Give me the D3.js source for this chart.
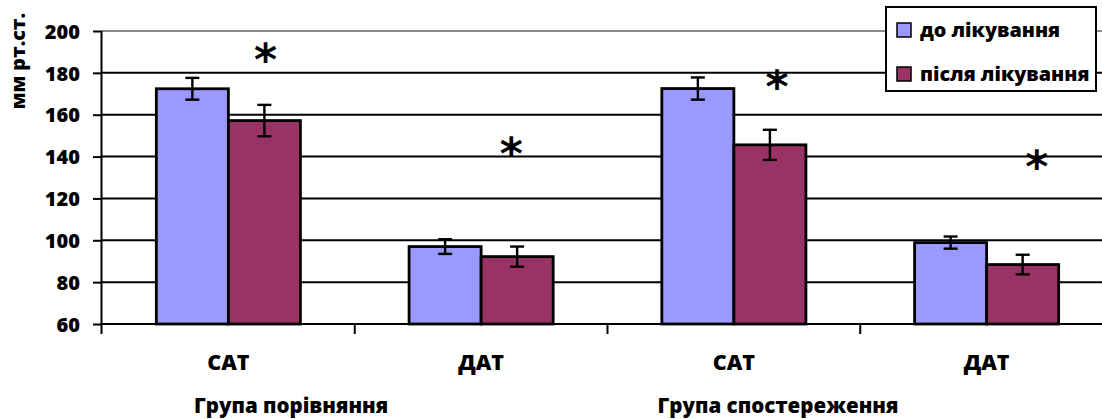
<!DOCTYPE html>
<html>
<head>
<meta charset="utf-8">
<script src="https://cdn.jsdelivr.net/npm/d3@7"></script>
<style>
  html, body { margin: 0; padding: 0; background: #fff; }
  svg { display: block; }
  text { font-family: "Open Sans", "Noto Sans", sans-serif; font-weight: 800; fill: #000; }
</style>
</head>
<body>
<svg id="chart" width="1102" height="419"></svg>
<script>
// Blood pressure before / after treatment, two groups
const categories = ["САТ", "ДАТ", "САТ", "ДАТ"];
const groupTitles = ["Група порівняння", "Група спостереження"];
const seriesNames = ["до лікування", "після лікування"];
const beforeValues = [172.4, 97.0, 172.5, 98.9];
const beforeErrors = [5.2, 3.5, 5.3, 2.9];
const afterValues = [157.2, 92.2, 145.6, 88.4];
const afterErrors = [7.5, 4.8, 7.2, 4.7];
const yTicks = [60, 80, 100, 120, 140, 160, 180, 200];
const starValues = [189.5, 144.5, 176.5, 138.5];
const seriesColors = ["#9999FF", "#993366"];

const svg = d3.select("#chart");
const margin = { left: 102, top: 31, right: 1113, bottom: 324 };

const y = d3.scaleLinear().domain([60, 200]).range([margin.bottom, margin.top]);
const x = d3.scaleBand()
  .domain(d3.range(categories.length))
  .range([margin.left, margin.right])
  .paddingInner(0.43)
  .paddingOuter(0.215);
const xs = d3.scaleBand().domain([0, 1]).range([0, x.bandwidth()]);

// horizontal gridlines
svg.append("g").selectAll("line")
  .data(yTicks.filter(v => v > 60))
  .join("line")
  .attr("x1", margin.left).attr("x2", margin.right)
  .attr("y1", d => y(d)).attr("y2", d => y(d))
  .attr("stroke", d => d === 200 ? "#8a8a8a" : "#000")
  .attr("stroke-width", 2);

// y axis
const yAxis = svg.append("g")
  .attr("transform", `translate(${margin.left},0)`)
  .call(d3.axisLeft(y).tickValues(yTicks).tickSize(9).tickPadding(13));
yAxis.select(".domain").attr("stroke-width", 2).attr("d", `M-0.5,${margin.top}V${margin.bottom + 10}`);
yAxis.selectAll(".tick line").attr("stroke-width", 2);
yAxis.selectAll(".tick text")
  .style("font-size", "20px").style("font-family", "'Open Sans', sans-serif").style("font-weight", "800")
  .attr("dy", "0.36em");

// x axis baseline with category separators
const xAxis = svg.append("g")
  .attr("transform", `translate(0,${margin.bottom})`);
xAxis.append("line")
  .attr("x1", margin.left).attr("x2", margin.right)
  .attr("stroke", "#000").attr("stroke-width", 2);
xAxis.selectAll("line.sep")
  .data(d3.range(1, categories.length))
  .join("line").attr("class", "sep")
  .attr("x1", d => margin.left + d * x.step()).attr("x2", d => margin.left + d * x.step())
  .attr("y1", 0).attr("y2", 10)
  .attr("stroke", "#000").attr("stroke-width", 2);

// category labels
svg.append("g").selectAll("text")
  .data(categories)
  .join("text")
  .attr("x", (d, i) => x(i) + x.bandwidth() / 2)
  .attr("y", 370)
  .attr("text-anchor", "middle")
  .style("font-size", "21.5px")
  .text(d => d);

// group titles
svg.append("text").attr("x", 291).attr("y", 413).attr("text-anchor", "middle")
  .style("font-size", "20.5px").text(groupTitles[0]);
svg.append("text").attr("x", 778).attr("y", 413).attr("text-anchor", "middle")
  .style("font-size", "20.5px").text(groupTitles[1]);

// y axis title
svg.append("text")
  .attr("transform", "translate(25,61) rotate(-90)")
  .attr("text-anchor", "middle")
  .style("font-size", "19.5px")
  .text("мм рт.ст.");

// bars
const series = [
  { values: beforeValues, errors: beforeErrors },
  { values: afterValues, errors: afterErrors }
];
series.forEach((s, si) => {
  const g = svg.append("g");
  g.selectAll("rect")
    .data(s.values)
    .join("rect")
    .attr("x", (d, i) => x(i) + xs(si))
    .attr("y", d => y(d))
    .attr("width", xs.bandwidth())
    .attr("height", d => y(60) - y(d))
    .attr("fill", seriesColors[si])
    .attr("stroke", "#000")
    .attr("stroke-width", 2.8);
});

// error bars
series.forEach((s, si) => {
  const g = svg.append("g").attr("stroke", "#000").attr("stroke-width", 2.4);
  s.values.forEach((v, i) => {
    const cx = x(i) + xs(si) + xs.bandwidth() / 2;
    const lo = y(v - s.errors[i]), hi = y(v + s.errors[i]);
    g.append("line").attr("x1", cx).attr("x2", cx).attr("y1", lo).attr("y2", hi);
    g.append("line").attr("x1", cx - 7).attr("x2", cx + 7).attr("y1", lo).attr("y2", lo);
    g.append("line").attr("x1", cx - 7).attr("x2", cx + 7).attr("y1", hi).attr("y2", hi);
  });
});

// significance marks above the after-treatment bars
const starShift = [1, -6, 7, 14];
svg.append("g").selectAll("text")
  .data(starValues)
  .join("text")
  .attr("x", (d, i) => x(i) + xs(1) + xs.bandwidth() / 2 + starShift[i])
  .attr("y", d => y(d))
  .attr("dy", "0.5em")
  .attr("text-anchor", "middle")
  .style("font-family", "'DejaVu Sans', sans-serif")
  .style("font-weight", "bold")
  .style("font-size", "44px")
  .text("*");

// legend
const legend = svg.append("g");
legend.append("rect")
  .attr("x", 886).attr("y", 7).attr("width", 210).attr("height", 84)
  .attr("fill", "#fff").attr("stroke", "#000").attr("stroke-width", 2);
seriesNames.forEach((name, i) => {
  const ly = 30 + i * 44;
  legend.append("rect")
    .attr("x", 897).attr("y", ly - 7).attr("width", 14).attr("height", 14)
    .attr("fill", seriesColors[i]).attr("stroke", "#000").attr("stroke-width", 1.5);
  legend.append("text")
    .attr("x", 920).attr("y", ly + 7)
    .style("font-size", "19.8px")
    .text(name);
});
</script>
</body>
</html>
